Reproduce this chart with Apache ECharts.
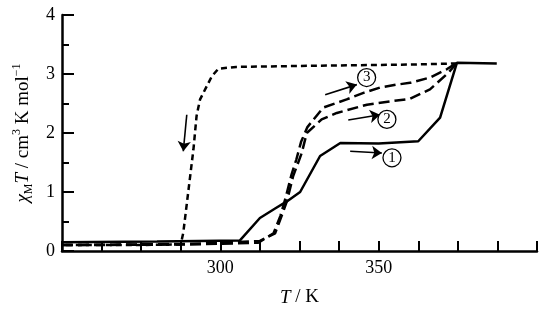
<!DOCTYPE html>
<html>
<head>
<meta charset="utf-8">
<script src="https://cdn.jsdelivr.net/npm/echarts@6/dist/echarts.min.js"></script>
<style>html,body{margin:0;padding:0;background:#fff}#c{width:550px;height:315px}</style>
</head>
<body>
<div id="c"></div>
<script>
// Curve 1 (solid, heating)
const c1T = [250, 280, 306.2, 312.5, 317.3, 321.0, 325.2, 331.5, 337.9, 350, 362.5, 369.4, 374.7, 387.3];
const c1Y = [0.15, 0.16, 0.18, 0.56, 0.72, 0.84, 1.0, 1.61, 1.83, 1.82, 1.86, 2.26, 3.19, 3.18];
// Curve 2 (long dash, heating)
const c2T = [250, 290, 312.5, 317.3, 319.4, 321.0, 323.0, 324.6, 325.7, 327.3, 332.0, 336.8, 346.3, 355.7, 359.9, 366.2, 372.0, 374.7];
const c2Y = [0.1, 0.12, 0.17, 0.3, 0.6, 0.84, 1.27, 1.5, 1.66, 2.0, 2.23, 2.34, 2.48, 2.55, 2.58, 2.74, 3.02, 3.19];
// Curve 3 (long dash, heating)
const c3T = [250, 290, 312.0, 316.8, 319.0, 320.6, 322.5, 324.0, 325.5, 327.5, 332.5, 339.9, 345.2, 350.4, 355.7, 359.9, 366.2, 371.5, 374.7];
const c3Y = [0.1, 0.11, 0.14, 0.3, 0.6, 0.9, 1.3, 1.55, 1.85, 2.1, 2.43, 2.57, 2.68, 2.77, 2.82, 2.85, 2.94, 3.08, 3.19];
// Cooling curve (short dash)
const coolT = [374.7, 360, 330, 305, 299.4, 297.3, 293.6, 292.5, 291.5, 288.3, 287.5, 270, 250];
const coolY = [3.18, 3.16, 3.14, 3.12, 3.09, 2.96, 2.57, 2.29, 1.72, 0.31, 0.11, 0.1, 0.1];
// Axis ticks
const xMin = 250, xMax = 400, xStep = 50;
const yMin = 0, yMax = 4, yStep = 1;
// Annotations: arrows [x1,y1,x2,y2] and circled labels [x,y,text]
const arrows = [[289.4, 2.31, 288.3, 1.69], [333.1, 2.65, 343.1, 2.82], [340.4, 2.22, 350.4, 2.31], [341.0, 1.69, 351.0, 1.66]];
const marks = [[346.2, 2.94, '3'], [352.6, 2.23, '2'], [354.2, 1.58, '1']];

const pairs = (a, b) => a.map((v, i) => [v, b[i]]);
const serif = 'Liberation Serif';
const chart = echarts.init(document.getElementById('c'));
const lineBase = { type: 'line', showSymbol: false, symbol: 'none', smooth: false, silent: true };
chart.setOption({
  animation: false,
  backgroundColor: '#fff',
  grid: { left: 62, right: 13, top: 15, bottom: 64 },
  xAxis: {
    type: 'value', min: xMin, max: xMax, interval: xStep,
    name: '{i|T} / K', nameLocation: 'middle', nameGap: 37,
    nameTextStyle: { fontFamily: serif, fontSize: 19, color: '#000', rich: { i: { fontFamily: serif, fontStyle: 'italic', fontSize: 19, color: '#000' } } },
    axisLine: { lineStyle: { color: '#000', width: 2.5 } },
    axisTick: { inside: true, length: 10, lineStyle: { color: '#000', width: 2 } },
    minorTick: { show: true, splitNumber: 4, length: 10, lineStyle: { color: '#000', width: 2 } },
    axisLabel: { showMinLabel: false, showMaxLabel: false, fontFamily: serif, fontSize: 18, color: '#000', margin: 8 },
    splitLine: { show: false }, minorSplitLine: { show: false }
  },
  yAxis: {
    type: 'value', min: yMin, max: yMax, interval: yStep,
    name: '{i|χ}{sub|M}{i|T} / cm{sup|3} K mol{sup|−1}', nameLocation: 'middle', nameGap: 27, nameRotate: 90,
    nameTextStyle: { fontFamily: serif, fontSize: 19, color: '#000', lineHeight: 24,
      rich: {
        i: { fontFamily: serif, fontStyle: 'italic', fontSize: 19, color: '#000', lineHeight: 24 },
        sub: { fontFamily: serif, fontSize: 12, color: '#000', verticalAlign: 'bottom', lineHeight: 12 },
        sup: { fontFamily: serif, fontSize: 12, color: '#000', verticalAlign: 'top', lineHeight: 12 }
      } },
    axisLine: { show: true, lineStyle: { color: '#000', width: 2.5 } },
    axisTick: { show: true, inside: true, length: 12, lineStyle: { color: '#000', width: 2 } },
    minorTick: { show: true, splitNumber: 2, length: 7, lineStyle: { color: '#000', width: 2 } },
    axisLabel: { fontFamily: serif, fontSize: 18, color: '#000', margin: 7 },
    splitLine: { show: false }, minorSplitLine: { show: false }
  },
  series: [
    Object.assign({}, lineBase, { data: pairs(coolT, coolY), lineStyle: { color: '#000', width: 2.5, type: [6, 4] } }),
    Object.assign({}, lineBase, { data: pairs(c3T, c3Y), lineStyle: { color: '#000', width: 2.5, type: [11, 5] } }),
    Object.assign({}, lineBase, { data: pairs(c2T, c2Y), lineStyle: { color: '#000', width: 2.5, type: [11, 5] } }),
    Object.assign({}, lineBase, { data: pairs(c1T, c1Y), lineStyle: { color: '#000', width: 2.5, type: 'solid' } }),
    Object.assign({}, lineBase, {
      data: [],
      markLine: {
        silent: true, symbol: ['none', 'arrow'], symbolSize: 10,
        lineStyle: { color: '#000', width: 1.6, type: 'solid' }, label: { show: false },
        data: arrows.map(a => [{ coord: [a[0], a[1]] }, { coord: [a[2], a[3]] }])
      },
      markPoint: {
        silent: true, symbol: 'circle', symbolSize: 18,
        itemStyle: { color: '#fff', borderColor: '#000', borderWidth: 1.3 },
        label: { show: true, formatter: '{b}', fontFamily: serif, fontSize: 15, color: '#000' },
        data: marks.map(m => ({ coord: [m[0], m[1]], name: m[2] }))
      }
    })
  ]
});
</script>
</body>
</html>
